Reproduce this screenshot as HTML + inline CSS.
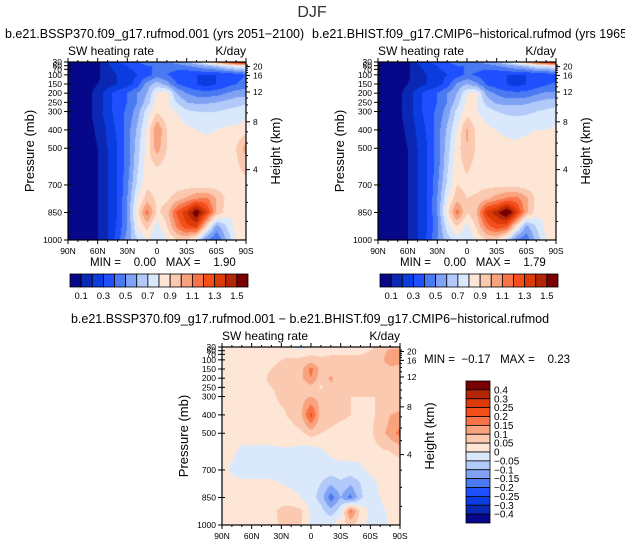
<!DOCTYPE html>
<html><head><meta charset="utf-8">
<style>
body{margin:0;background:#fff;width:625px;height:545px;overflow:hidden;position:relative;font-family:"Liberation Sans",sans-serif;}
canvas{position:absolute;}
svg{position:absolute;left:0;top:0;}
text{white-space:pre;}
</style></head>
<body>
<canvas id="c1" width="178" height="178" style="left:68px;top:62px"></canvas>
<canvas id="c2" width="178" height="178" style="left:378px;top:62px"></canvas>
<canvas id="c3" width="178" height="178" style="left:222px;top:347px"></canvas>
<svg id="s" width="625" height="545"></svg>
<script>
const lats=[90,80,70,60,50,40,30,20,10,0,-10,-20,-30,-40,-50,-60,-70,-80,-90];
const levels=[30,50,100,150,200,250,300,400,500,600,700,775,850,925,1000];
const futureGrid=[
[0.02,0.02,0.03,0.06,0.2,0.3,0.35,0.4,0.45,0.5,0.5,0.55,0.6,0.7,0.85,1.05,1.25,1.45,1.55],
[0.02,0.02,0.03,0.08,0.18,0.25,0.3,0.35,0.4,0.4,0.45,0.45,0.5,0.55,0.6,0.65,0.75,0.8,0.85],
[0.02,0.02,0.03,0.08,0.15,0.2,0.25,0.3,0.35,0.45,0.4,0.35,0.3,0.3,0.3,0.3,0.3,0.35,0.4],
[0.02,0.02,0.04,0.1,0.15,0.2,0.25,0.35,0.55,0.65,0.55,0.4,0.35,0.3,0.25,0.3,0.35,0.4,0.45],
[0.02,0.03,0.06,0.15,0.25,0.35,0.4,0.5,0.6,0.82,0.85,0.6,0.5,0.45,0.45,0.45,0.5,0.55,0.55],
[0.02,0.03,0.06,0.15,0.25,0.35,0.4,0.5,0.65,0.85,0.82,0.7,0.6,0.58,0.58,0.6,0.63,0.66,0.68],
[0.02,0.03,0.07,0.15,0.25,0.35,0.42,0.55,0.75,0.88,0.83,0.8,0.72,0.7,0.7,0.7,0.72,0.74,0.76],
[0.02,0.03,0.06,0.12,0.22,0.32,0.45,0.62,0.82,1.1,0.9,0.85,0.83,0.8,0.78,0.8,0.82,0.82,0.85],
[0.02,0.03,0.05,0.1,0.2,0.3,0.45,0.65,0.85,1.05,0.9,0.85,0.85,0.85,0.85,0.88,0.88,0.9,1.05],
[0.02,0.03,0.05,0.1,0.2,0.3,0.45,0.68,0.85,0.9,0.85,0.85,0.85,0.85,0.85,0.86,0.86,0.87,0.95],
[0.02,0.03,0.05,0.1,0.2,0.3,0.48,0.72,0.88,0.85,0.85,0.85,0.85,0.85,0.85,0.85,0.85,0.85,0.85],
[0.02,0.03,0.05,0.1,0.2,0.3,0.5,0.8,0.95,0.88,0.88,0.95,1.02,1.1,1.12,1.0,0.88,0.85,0.85],
[0.02,0.03,0.05,0.1,0.2,0.3,0.5,0.85,1.15,0.88,0.95,1.22,1.38,1.6,1.32,1.0,0.85,0.8,0.82],
[0.02,0.03,0.05,0.1,0.2,0.32,0.5,0.8,0.95,0.75,0.9,1.12,1.28,1.32,0.9,0.55,0.7,0.85,0.9],
[0.02,0.03,0.05,0.1,0.2,0.35,0.55,0.7,0.8,0.7,0.8,0.9,0.9,0.75,0.5,0.4,0.6,0.8,0.85]];
const histGrid=[
[0.02,0.02,0.03,0.06,0.2,0.3,0.35,0.4,0.45,0.5,0.5,0.55,0.6,0.7,0.85,1.05,1.25,1.45,1.55],
[0.02,0.02,0.03,0.08,0.18,0.25,0.3,0.35,0.4,0.4,0.45,0.45,0.5,0.55,0.6,0.65,0.75,0.78,0.8],
[0.02,0.02,0.03,0.08,0.15,0.2,0.25,0.3,0.35,0.42,0.38,0.33,0.3,0.3,0.3,0.3,0.3,0.33,0.35],
[0.02,0.02,0.04,0.1,0.15,0.2,0.25,0.35,0.52,0.6,0.52,0.38,0.33,0.3,0.25,0.3,0.33,0.38,0.42],
[0.02,0.03,0.06,0.15,0.25,0.35,0.4,0.5,0.6,0.8,0.82,0.56,0.48,0.43,0.43,0.43,0.48,0.52,0.52],
[0.02,0.03,0.06,0.15,0.25,0.35,0.4,0.5,0.65,0.83,0.8,0.66,0.58,0.56,0.56,0.58,0.61,0.64,0.66],
[0.02,0.03,0.07,0.15,0.25,0.35,0.42,0.55,0.73,0.85,0.8,0.76,0.7,0.68,0.68,0.68,0.7,0.72,0.74],
[0.02,0.03,0.06,0.12,0.22,0.32,0.45,0.62,0.8,1.02,0.87,0.82,0.8,0.78,0.76,0.78,0.8,0.8,0.82],
[0.02,0.03,0.05,0.1,0.2,0.3,0.45,0.65,0.85,1.0,0.88,0.83,0.83,0.83,0.83,0.85,0.85,0.85,0.9],
[0.02,0.03,0.05,0.1,0.2,0.3,0.45,0.68,0.86,0.92,0.86,0.85,0.85,0.85,0.85,0.85,0.85,0.86,0.9],
[0.02,0.03,0.05,0.1,0.2,0.3,0.48,0.72,0.9,0.87,0.87,0.87,0.87,0.87,0.86,0.85,0.84,0.84,0.84],
[0.02,0.03,0.05,0.1,0.2,0.3,0.5,0.8,0.96,0.9,0.92,0.98,1.05,1.12,1.14,1.02,0.88,0.84,0.84],
[0.02,0.03,0.05,0.1,0.2,0.3,0.5,0.85,1.15,0.9,1.0,1.35,1.45,1.65,1.36,1.02,0.85,0.8,0.8],
[0.02,0.03,0.05,0.1,0.2,0.3,0.48,0.75,0.9,0.76,0.92,1.15,1.28,1.22,0.87,0.57,0.71,0.84,0.88],
[0.02,0.03,0.05,0.1,0.2,0.32,0.5,0.65,0.76,0.71,0.82,0.9,0.88,0.72,0.48,0.42,0.63,0.8,0.83]];
const diffGrid=[
[0.02,0.02,0.02,0.02,0.02,0.02,0.01,-0.01,-0.02,-0.01,0.02,0.03,0.03,0.03,0.03,0.04,0.06,0.08,0.08],
[0.02,0.02,0.02,0.02,0.03,0.03,0.03,0.02,0.02,0.03,0.03,0.04,0.04,0.04,0.04,0.05,0.08,0.11,0.11],
[0.02,0.02,0.02,0.03,0.03,0.04,0.05,0.06,0.06,0.07,0.06,0.06,0.06,0.06,0.06,0.07,0.09,0.12,0.11],
[0.02,0.02,0.03,0.03,0.04,0.05,0.06,0.07,0.08,0.17,0.08,0.07,0.06,0.06,0.06,0.07,0.08,0.09,0.09],
[0.02,0.02,0.03,0.04,0.04,0.06,0.06,0.07,0.09,0.15,0.07,0.11,0.07,0.06,0.06,0.07,0.07,0.07,0.07],
[0.02,0.02,0.03,0.03,0.04,0.05,0.06,0.05,0.06,0.08,0.04,0.09,0.07,0.06,0.06,0.06,0.06,0.06,0.06],
[0.02,0.02,0.02,0.03,0.03,0.04,0.06,0.06,0.08,0.1,0.08,0.07,0.06,0.05,0.05,0.05,0.05,0.06,0.06],
[0.02,0.02,0.02,0.02,0.03,0.03,0.04,0.06,0.09,0.22,0.08,0.07,0.06,0.05,0.04,0.04,0.06,0.1,0.11],
[0.02,0.02,0.02,0.02,0.02,0.02,0.03,0.03,0.04,0.07,0.05,0.04,0.03,0.03,0.03,0.04,0.08,0.12,0.17],
[0.02,0.01,-0.01,-0.01,-0.01,-0.01,-0.01,-0.01,-0.02,-0.03,-0.01,0.01,0.02,0.02,0.02,0.03,0.04,0.05,0.06],
[0.02,-0.01,-0.02,-0.02,-0.02,-0.02,-0.02,-0.01,-0.02,-0.02,-0.02,-0.02,-0.02,-0.02,-0.01,0.01,0.02,0.03,0.03],
[0.02,0.02,0.01,0.01,0.01,0.01,0.0,-0.01,-0.02,-0.03,-0.05,-0.09,-0.06,-0.09,-0.05,-0.02,0.01,0.02,0.02],
[0.02,0.02,0.02,0.02,0.02,0.02,0.03,0.02,0.0,-0.03,-0.07,-0.18,-0.1,-0.17,-0.06,-0.02,0.0,0.02,0.02],
[0.02,0.02,0.03,0.03,0.03,0.04,0.06,0.07,0.06,-0.01,-0.03,-0.08,-0.02,0.17,0.04,-0.01,-0.01,0.01,0.02],
[0.02,0.02,0.02,0.03,0.03,0.03,0.06,0.07,0.05,-0.01,-0.02,0.0,0.03,0.06,0.02,-0.02,-0.03,0.01,0.02]];
const topBounds=[0.1,0.2,0.3,0.4,0.5,0.6,0.7,0.8,0.9,1.0,1.1,1.2,1.3,1.4,1.5];
const topLabels=["0.1","0.3","0.5","0.7","0.9","1.1","1.3","1.5"];
const diffBounds=[-0.4,-0.3,-0.25,-0.2,-0.15,-0.1,-0.05,0,0.05,0.1,0.15,0.2,0.25,0.3,0.4];
const diffLabels=["-0.4","-0.3","-0.25","-0.2","-0.15","-0.1","-0.05","0","0.05","0.1","0.15","0.2","0.25","0.3","0.4"];
const pTicks=[30,50,70,100,150,200,250,300,400,500,700,850,1000];
const zTicks=[4,8,12,16,20];
const latTicks=[90,60,30,0,-30,-60,-90];
const latLabels=["90N","60N","30N","0","30S","60S","90S"];
const colors=['#07078a','#0a28b4','#0a3ce0','#1e50ff','#4a7af2','#80a2f5','#b2cafa','#dae8fc','#fde6d6','#fbc8b0','#f9a27e','#f87448','#f44e1a','#dc3a06','#b42606','#780000'];

const W=178,H=178;
function rgb(h){return [parseInt(h.substr(1,2),16),parseInt(h.substr(3,2),16),parseInt(h.substr(5,2),16)];}
function pAtY(py){return 30+py/H*970;}
function latIdx(px){return px/W*(lats.length-1);}
function sample(grid,fi,p){
  let j=0;while(j<levels.length-2&&p>levels[j+1])j++;
  const t=Math.max(0,Math.min(1,(p-levels[j])/(levels[j+1]-levels[j])));
  const i=Math.min(Math.floor(fi),lats.length-2);const u=fi-i;
  const a=grid[j][i]*(1-u)+grid[j][i+1]*u, b=grid[j+1][i]*(1-u)+grid[j+1][i+1]*u;
  return a*(1-t)+b*t;
}
function drawField(id,grid,bounds){
  const c=document.getElementById(id),ctx=c.getContext('2d');
  const img=ctx.createImageData(W,H);const cols=colors.map(rgb);
  for(let y=0;y<H;y++){const p=pAtY(y+0.5);
    for(let x=0;x<W;x++){const v=sample(grid,latIdx(x+0.5),p);
      let k=0;while(k<bounds.length&&v>=bounds[k])k++;
      const o=(y*W+x)*4;img.data[o]=cols[k][0];img.data[o+1]=cols[k][1];img.data[o+2]=cols[k][2];img.data[o+3]=255;}}
  ctx.putImageData(img,0,0);
}
drawField('c1',futureGrid,topBounds);
drawField('c2',histGrid,topBounds);
drawField('c3',diffGrid,diffBounds);

const S=document.getElementById('s');const NS='http://www.w3.org/2000/svg';
function el(tag,attrs,txt){const e=document.createElementNS(NS,tag);for(const k in attrs)e.setAttribute(k,attrs[k]);if(txt!==undefined)e.textContent=txt;S.appendChild(e);return e;}
function text(x,y,s,size,anchor,name,extra){const e=el('text',Object.assign({x:x,y:y,'font-size':size,'text-anchor':anchor||'start','font-family':'Liberation Sans, sans-serif',fill:'#000'},extra||{}),s);
  
  return e;}
function zToP(z){z*=1000;return z<11000?1013.25*Math.pow(1-2.25577e-5*z,5.25588):226.32*Math.exp(-(z-11000)/6341.6);}
function axes(x0,y0,prefix,minmax,mmx,mmy){
  const yP=p=>y0+(p-30)/970*H, xL=l=>x0+(90-l)/180*W;
  const fr=el('rect',{x:x0,y:y0,width:W,height:H,fill:'none',stroke:'#000','stroke-width':1.2});
  
  
  pTicks.forEach(p=>{const y=yP(p);el('line',{x1:x0-4,x2:x0+3,y1:y,y2:y,stroke:'#000'});
    text(x0-6,y+3,String(p),8.5,'end',prefix+'-pressure-tick-'+p);});
  for(let l=90;l>=-90;l-=10){const x=xL(l);const maj=l%30===0;
    el('line',{x1:x,x2:x,y1:y0+H,y2:y0+H+(maj?4:2),stroke:'#000'});
    el('line',{x1:x,x2:x,y1:y0,y2:y0-(maj?4:2),stroke:'#000'});}
  latTicks.forEach((l,i)=>text(xL(l),y0+H+14,latLabels[i],8.5,'middle',prefix+'-lat-tick-'+latLabels[i]));
  zTicks.forEach(z=>{const y=yP(zToP(z));el('line',{x1:x0+W,x2:x0+W+4,y1:y,y2:y,stroke:'#000'});
    text(x0+W+7,y+3,String(z),8.5,'start',prefix+'-height-tick-'+z);});
  for(let z=1;z<=21;z++){if(z%4===0)continue;const y=yP(zToP(z));if(y<y0)continue;el('line',{x1:x0+W,x2:x0+W+2,y1:y,y2:y,stroke:'#000'});}
  text(x0,y0-7,'SW heating rate',12,'start',prefix+'-variable-label');
  text(x0+W,y0-7,'K/day',12,'end',prefix+'-units-label');
  text(x0-34,y0+H/2,'Pressure (mb)',13,'middle',prefix+'-y-axis-title',{transform:`rotate(-90 ${x0-34} ${y0+H/2})`});
  text(x0+W+34,y0+H/2,'Height (km)',13,'middle',prefix+'-y2-axis-title',{transform:`rotate(-90 ${x0+W+34} ${y0+H/2})`});
  text(mmx,mmy,minmax,11.5,'start',prefix+'-min-max');
}
function hbar(x0,y0,prefix){
  const bw=(248-70)/colors.length;
  colors.forEach((c,k)=>{const r=el('rect',{x:x0+k*bw,y:y0,width:bw,height:13,fill:c,stroke:'#000','stroke-width':0.8});
    
    });
  topLabels.forEach((s,i)=>text(x0+(2*i+1)*bw,y0+25,s,9.5,'middle',prefix+'-colorbar-label'));
}
text(312,17,'DJF',16,'middle','main-title',{fill:'#333'});
text(5,38,'b.e21.BSSP370.f09_g17.rufmod.001 (yrs 2051\u22122100)',12.5,'start','left-panel-title');
text(312,38,'b.e21.BHIST.f09_g17.CMIP6\u2212historical.rufmod (yrs 1965\u22122014)',12.5,'start','right-panel-title');
axes(68,62,'future','MIN =    0.00   MAX =    1.90',90,266);
axes(378,62,'historical','MIN =    0.00   MAX =    1.79',400,266);
hbar(70,274,'future');hbar(380,274,'historical');
text(310,323,'b.e21.BSSP370.f09_g17.rufmod.001 \u2212 b.e21.BHIST.f09_g17.CMIP6\u2212historical.rufmod',12.5,'middle','difference-title');
axes(222,347,'difference','MIN =  \u22120.17   MAX =    0.23',424,363);
const bh=142/colors.length;
colors.slice().reverse().forEach((c,k)=>{const r=el('rect',{x:466,y:381+k*bh,width:24,height:bh,fill:c,stroke:'#000','stroke-width':0.8});
  
  });
diffLabels.slice().reverse().forEach((s,k)=>text(494,381+(k+1)*bh+3.5,s.replace('-','\u2212'),10,'start','difference-colorbar-label'));
</script>
</body></html>
